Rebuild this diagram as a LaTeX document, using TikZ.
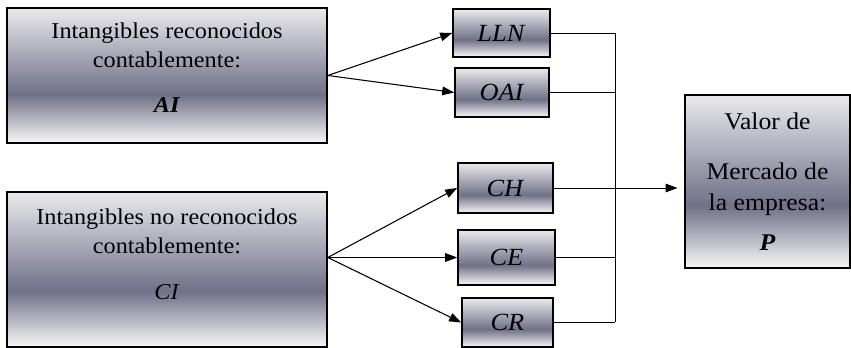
\documentclass[tikz,border=0pt]{standalone}
\usepackage{fontspec}
\setmainfont[FakeStretch=1.07]{Liberation Serif}
\usetikzlibrary{arrows.meta}
\definecolor{boxgray}{RGB}{112,112,136}
\pgfdeclareverticalshading{boxshade}{100bp}{color(0bp)=(white!95!boxgray); color(25bp)=(white!95!boxgray); color(43bp)=(boxgray); color(75bp)=(white!85!boxgray); color(100bp)=(white!85!boxgray)}

\begin{document}
\begin{tikzpicture}[x=0.75pt, y=-0.75pt,
    box/.style={draw=black, line width=1.2pt, shade, shading=boxshade, align=center, inner sep=0pt,
      font=\fontsize{17}{21.75}\selectfont},
    small/.style={box, font=\fontsize{18.5}{22}\selectfont},
    conn/.style={line width=0.8pt, -{Triangle[length=9pt,width=6.5pt]}},
    bus/.style={line width=0.7pt}]
    \useasboundingbox (0,0) rectangle (851,348);
    % left boxes
    \node[box, minimum width=240pt, minimum height=101.25pt] (ai) at (167,75.5)
        {Intangibles reconocidos\\contablemente:\\[12pt]\textbf{\textit{AI}}\\[-10pt]\mbox{}};
    \node[box, minimum width=240pt, minimum height=116.25pt] (ci) at (167,269.5)
        {Intangibles no reconocidos\\contablemente:\\[12.75pt]\textit{CI}\\[2pt]\mbox{}};
    % middle boxes
    \node[small, minimum width=72.75pt, minimum height=36pt] (lln) at (501.5,33) {\textit{LLN}};
    \node[small, minimum width=70.5pt, minimum height=36.75pt] (oai) at (502,92.5) {\textit{OAI}};
    \node[small, minimum width=71.25pt, minimum height=37.5pt] (ch) at (505.5,188) {\textit{CH}};
    \node[small, minimum width=72.75pt, minimum height=41.25pt] (ce) at (506.5,257.5) {\textit{CE}};
    \node[small, minimum width=68.25pt, minimum height=36.75pt] (cr) at (507.5,322.5) {\textit{CR}};
    % right box
    \node[box, minimum width=123.75pt, minimum height=129.75pt, font=\fontsize{18}{23}\selectfont] (p) at (767.5,181.5)
        {Valor de\\[14.5pt]Mercado de\\la empresa:\\[7pt]\textbf{\textit{P}}};
    % arrows out of the left boxes
    \coordinate (cisrc) at (ci.east |- ce.west);
    \foreach \t in {lln,oai} {
        \draw[conn] (ai.east) -- (\t.west);
    }
    \foreach \t in {ch,ce,cr} {
        \draw[conn] (cisrc) -- (\t.west);
    }
    % collecting line
    \coordinate (bus) at (615,0);
    \foreach \t in {lln,oai,ce,cr} {
        \draw[bus] (\t.east) -- (\t.east -| bus);
    }
    \draw[bus] (lln.east -| bus) -- (cr.east -| bus);
    \draw[conn, line width=0.7pt] (ch.east) -- ([xshift=-5pt]ch.east -| p.west);
\end{tikzpicture}
\end{document}
